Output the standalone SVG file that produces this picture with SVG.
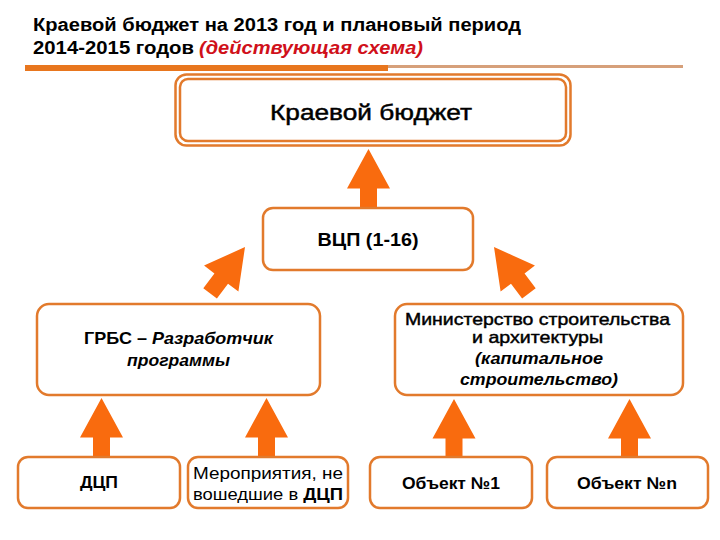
<svg xmlns="http://www.w3.org/2000/svg" xmlns:xlink="http://www.w3.org/1999/xlink" width="720" height="540" viewBox="0 0 720 540">
<style>
.box{fill:#ffffff;stroke:#e27a2c;stroke-width:2.5}
.arr{fill:#f96b0e}
.t{font-family:"Liberation Sans",Arial,sans-serif;fill:#000}
.b{font-weight:bold}
.i{font-style:italic}
.m{stroke:#000;stroke-width:0.45}
</style>
<defs>
<path id="arrow" d="M0,0 L21.5,39.5 L8.5,39.5 L8.5,58 L-8.5,58 L-8.5,39.5 L-21.5,39.5 Z"/>
</defs>
<rect width="720" height="540" fill="#ffffff"/>
<g id="title">
<text class="t b" x="33" y="31" font-size="18" textLength="488" lengthAdjust="spacingAndGlyphs">Краевой бюджет на 2013 год и плановый период</text>
<text class="t b" x="33" y="54" font-size="18" textLength="161" lengthAdjust="spacingAndGlyphs">2014-2015 годов</text>
<text class="t b i" x="199" y="54" font-size="18" style="fill:#d0101a" textLength="224" lengthAdjust="spacingAndGlyphs">(действующая схема)</text>
<rect x="388" y="65" width="295" height="3" fill="#d6a07a"/>
<rect x="25" y="65" width="363" height="6" fill="#e8761e"/>
</g>
<g id="connectors">
<use xlink:href="#arrow" href="#arrow" class="arr" transform="translate(368.5,149)"/>
<use xlink:href="#arrow" href="#arrow" class="arr" transform="translate(245,247) rotate(37)"/>
<use xlink:href="#arrow" href="#arrow" class="arr" transform="translate(494,247) rotate(-37)"/>
<use xlink:href="#arrow" href="#arrow" class="arr" transform="translate(101.5,398)"/>
<use xlink:href="#arrow" href="#arrow" class="arr" transform="translate(266.5,398)"/>
<use xlink:href="#arrow" href="#arrow" class="arr" transform="translate(454,399)"/>
<use xlink:href="#arrow" href="#arrow" class="arr" transform="translate(629.5,399)"/>
</g>
<g id="node-kraevoy">
<rect class="box" x="175.5" y="74.5" width="395" height="71" rx="11"/>
<rect class="box" x="180" y="79" width="386" height="62" rx="8" stroke-width="2"/>
<text class="t m" x="371" y="120" font-size="22" text-anchor="middle" textLength="202" lengthAdjust="spacingAndGlyphs" stroke-width="0.6">Краевой бюджет</text>
</g>
<g id="node-vcp">
<rect class="box" x="263" y="208" width="210" height="62" rx="10"/>
<text class="t b" x="368" y="246" font-size="18" text-anchor="middle" textLength="101" lengthAdjust="spacingAndGlyphs">ВЦП (1-16)</text>
</g>
<g id="node-grbs">
<rect class="box" x="37" y="304" width="283" height="91" rx="12"/>
<text class="t b" x="84" y="344" font-size="17" textLength="189" lengthAdjust="spacingAndGlyphs">ГРБС – <tspan class="i">Разработчик</tspan></text>
<text class="t b i" x="178.5" y="366" font-size="17" text-anchor="middle" textLength="103" lengthAdjust="spacingAndGlyphs">программы</text>
</g>
<g id="node-minstroy">
<rect class="box" x="395" y="304" width="288" height="91" rx="12"/>
<text class="t m" x="537.5" y="325" font-size="17" text-anchor="middle" textLength="265" lengthAdjust="spacingAndGlyphs">Министерство строительства</text>
<text class="t m" x="537.5" y="343" font-size="17" text-anchor="middle" textLength="131" lengthAdjust="spacingAndGlyphs">и архитектуры</text>
<text class="t b i" x="539" y="364" font-size="16" text-anchor="middle" textLength="128" lengthAdjust="spacingAndGlyphs">(капитальное</text>
<text class="t b i" x="539" y="385" font-size="16" text-anchor="middle" textLength="158" lengthAdjust="spacingAndGlyphs">строительство)</text>
</g>
<g id="node-dcp">
<rect class="box" x="18" y="457" width="162" height="51" rx="10"/>
<text class="t b" x="99" y="488" font-size="17" text-anchor="middle" textLength="38" lengthAdjust="spacingAndGlyphs">ДЦП</text>
</g>
<g id="node-meropriyatiya">
<rect class="box" x="188" y="457" width="160" height="51" rx="10"/>
<text class="t" x="268" y="479" font-size="16" text-anchor="middle" textLength="150" lengthAdjust="spacingAndGlyphs">Мероприятия, не</text>
<text class="t" x="268" y="500" font-size="16" text-anchor="middle" textLength="150" lengthAdjust="spacingAndGlyphs">вошедшие в <tspan class="b">ДЦП</tspan></text>
</g>
<g id="node-obj1">
<rect class="box" x="370" y="457" width="162" height="51" rx="10"/>
<text class="t b" x="451" y="489" font-size="17" text-anchor="middle" textLength="98" lengthAdjust="spacingAndGlyphs">Объект №1</text>
</g>
<g id="node-objn">
<rect class="box" x="547" y="457" width="161" height="51" rx="10"/>
<text class="t b" x="627" y="489" font-size="17" text-anchor="middle" textLength="100" lengthAdjust="spacingAndGlyphs">Объект №n</text>
</g>
</svg>
